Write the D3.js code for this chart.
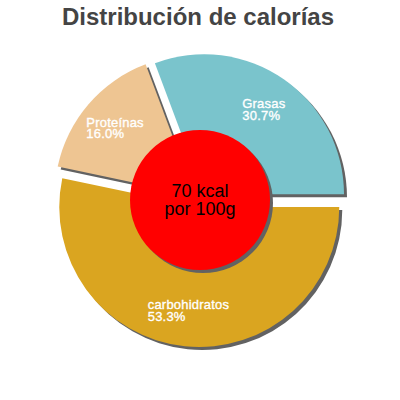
<!DOCTYPE html>
<html>
<head>
	<meta charset="utf-8">
	<title>Distribución de calorías</title>
	<script src="https://cdn.jsdelivr.net/npm/d3@7"></script>
	<style type="text/css">
	body{ margin:0; background:#fff; }
	svg{ display:block; }
	text{ font-family: "Liberation Sans", Arial, sans-serif; }
	.title{ font-size:24px; font-weight:bold; fill:#444; }
	.lbl{ font-size:13px; fill:#fff; stroke:#fff; stroke-width:0.35px; letter-spacing:0.2px; }
	.center{ font-size:18px; fill:#000; }
	</style>
</head>
<body>
<div id="chart"></div>
<script type="text/javascript">

var categories = ['Grasas', 'Proteínas', 'carbohidratos'];
var percents = [30.7, 16.0, 53.3];
var colors = ['#7ac4cc', '#eec592', '#daa520'];
var centerLines = ['70 kcal', 'por 100g'];

var width = 400, height = 400;
var cx = 200, cy = 200, radius = 140, explode = 7, shadow = 3;

var svg = d3.select('#chart').append('svg')
	.attr('width', width)
	.attr('height', height);

svg.append('text')
	.attr('class', 'title')
	.attr('x', 198)
	.attr('y', 25)
	.attr('text-anchor', 'middle')
	.text('Distribución de calorías');

// counter clockwise, starting at 3 o'clock
var pie = d3.pie()
	.sort(null)
	.startAngle(Math.PI / 2)
	.endAngle(Math.PI / 2 - 2 * Math.PI);

var arc = d3.arc().innerRadius(0).outerRadius(radius);

var slices = pie(percents);

function offset(d, r){
	var a = (d.startAngle + d.endAngle) / 2;
	return [cx + r * Math.sin(a), cy - r * Math.cos(a)];
}

var g = svg.append('g');

// shadows first
g.selectAll('path.shadow')
	.data(slices).enter()
	.append('path')
		.attr('class', 'shadow')
		.attr('d', arc)
		.attr('fill', '#626262')
		.attr('transform', function(d){
			var p = offset(d, explode);
			return 'translate(' + (p[0] + shadow) + ',' + (p[1] + shadow) + ')';
		});

g.selectAll('path.slice')
	.data(slices).enter()
	.append('path')
		.attr('class', 'slice')
		.attr('d', arc)
		.attr('fill', function(d, i){ return colors[i]; })
		.attr('transform', function(d){
			var p = offset(d, explode);
			return 'translate(' + p[0] + ',' + p[1] + ')';
		});

// center disc
svg.append('circle')
	.attr('cx', cx + shadow).attr('cy', cy + shadow).attr('r', 70)
	.attr('fill', '#626262');
svg.append('circle')
	.attr('cx', cx).attr('cy', cy).attr('r', 70)
	.attr('fill', '#ff0000');

svg.selectAll('text.center')
	.data(centerLines).enter()
	.append('text')
		.attr('class', 'center')
		.attr('x', cx)
		.attr('y', function(d, i){ return 197 + i * 18; })
		.attr('text-anchor', 'middle')
		.text(function(d){ return d; });

// slice labels, left aligned block centred on 0.75 r
var labels = svg.selectAll('g.label')
	.data(slices).enter()
	.append('g')
		.attr('class', 'label')
		.attr('transform', function(d){
			var a = (d.startAngle + d.endAngle) / 2;
			var c = offset(d, explode);
			var x = c[0] + radius * 0.75 * Math.sin(a);
			var y = c[1] - radius * 0.74 * Math.cos(a);
			return 'translate(' + x + ',' + y + ')';
		});

labels.each(function(d, i){
	var el = d3.select(this);
	var t1 = el.append('text').attr('class', 'lbl').attr('y', -1).text(categories[i]);
	var t2 = el.append('text').attr('class', 'lbl').attr('y', 10.5).text(percents[i].toFixed(1) + '%');
	var w = Math.max(t1.node().getComputedTextLength(), t2.node().getComputedTextLength());
	t1.attr('x', -w / 2);
	t2.attr('x', -w / 2);
});

</script>
</body>
</html>
